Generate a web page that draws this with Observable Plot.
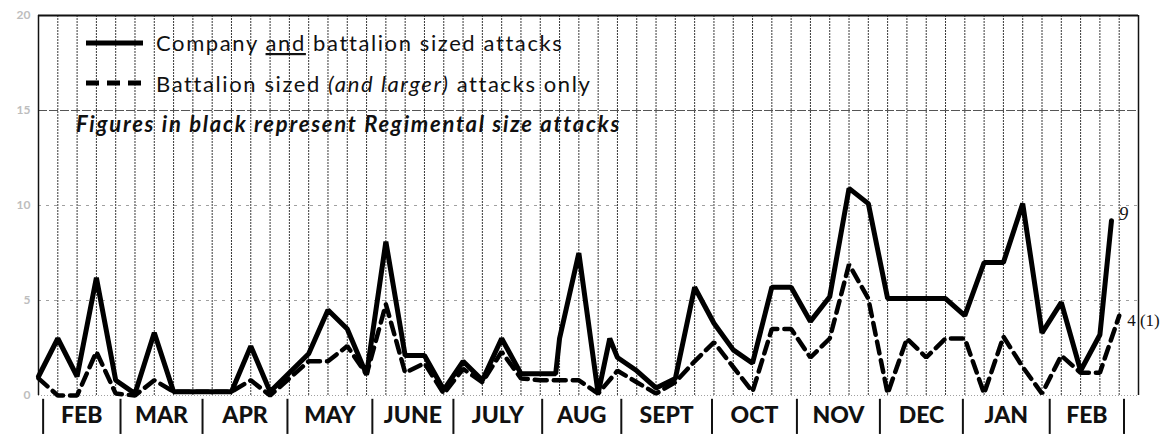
<!DOCTYPE html>
<html><head><meta charset="utf-8">
<script src="https://cdn.jsdelivr.net/npm/d3@7"></script>
<script src="https://cdn.jsdelivr.net/npm/@observablehq/plot@0.6"></script>
<style>
html,body{margin:0;padding:0;background:#fff;}
#chart svg{display:block;}
</style></head><body><div id="chart"></div>
<script>
// Company and battalion sized attacks (solid line), by week position
const companyWeeks = [0,1,2,3,4,5,6,7,8,9,10,11,12,13,14,15,16,17,18,19,20,21,22,23,24,25,26,26.8,27,28,29,29.6,30,31,32,33,34,35,36,37,38,39,40,41,42,43,44,45,46,47,48,49,50,51,52,53,54,55,55.6];
const companyValues = [1,3,1,6.2,0.8,0.1,3.3,0.2,0.2,0.2,0.2,2.6,0.2,1.2,2.2,4.5,3.5,1.1,8.1,2.1,2.1,0.3,1.8,0.8,3.0,1.15,1.15,1.15,3.0,7.5,0.1,3.0,2.0,1.3,0.4,0.9,5.7,3.8,2.4,1.7,5.7,5.7,3.9,5.2,10.9,10.1,5.1,5.1,5.1,5.1,4.2,7.0,7.0,10.1,3.3,4.9,1.3,3.2,9.2];
// Battalion sized (and larger) attacks only (dashed line)
const battalionWeeks = [0,1,2,3,4,5,6,7,8,9,10,11,12,13,14,15,16,17,18,19,20,21,22,23,24,25,26,27,28,29,30,31,32,33,34,35,36,37,38,39,40,41,42,43,44,45,46,47,48,49,50,51,52,53,54,55,56];
const battalionValues = [0.9,0,0,2.3,0.1,0,0.8,0.2,0.2,0.2,0.2,0.8,0,0.9,1.8,1.8,2.6,1.1,4.8,1.2,1.7,0.1,1.4,0.7,2.3,0.9,0.8,0.8,0.8,0.1,1.3,0.7,0.1,0.7,1.8,2.8,1.5,0.2,3.5,3.5,2.0,3.0,6.9,5.1,0.1,3.0,2.0,3.0,3.0,0.1,3.1,1.5,0.1,2.1,1.2,1.2,4.2];
const endLabels = ["9", "4 (1)"];
const monthNames = ["FEB","MAR","APR","MAY","JUNE","JULY","AUG","SEPT","OCT","NOV","DEC","JAN","FEB"];
const monthEdges = [0.24,4.25,8.5,12.9,17.3,21.5,26.1,30.2,34.9,39.3,43.6,47.9,52.4,56.25];
const yTicks = [0,5,10,15,20];
const weekCount = 57;

const company = companyWeeks.map((w,i)=>({week:w, value:companyValues[i]}));
const battalion = battalionWeeks.map((w,i)=>({week:w, value:battalionValues[i]}));
const months = monthNames.map((m,i)=>({name:m, mid:(monthEdges[i]+monthEdges[i+1])/2}));
const weekLines = d3.range(1, weekCount);

const plot = Plot.plot({
  width:1170, height:434,
  marginLeft:38, marginRight:32, marginTop:15, marginBottom:39,
  x:{domain:[0, weekCount], axis:null},
  y:{domain:[0, 20], axis:null},
  style:{background:"transparent", fontFamily:"Lato, sans-serif"},
  marks:[
    Plot.ruleX(weekLines, {y1:0, y2:20, stroke:"#222", strokeWidth:0.9, strokeDasharray:"2,1"}),
    Plot.ruleY([5,10], {stroke:"#888", strokeWidth:0.8, strokeDasharray:"3,5"}),
    Plot.ruleY([15], {stroke:"#555", strokeWidth:1, strokeDasharray:"9,2"}),
    Plot.ruleY([20], {stroke:"#111", strokeWidth:1.8}),
    Plot.ruleY([0], {stroke:"#777", strokeWidth:0.7, strokeDasharray:"1,2"}),
    Plot.ruleX([0, weekCount], {y1:0, y2:20, stroke:"#111", strokeWidth:1.5}),
    Plot.text(yTicks, {x:0, y:d=>d, text:d=>String(d), textAnchor:"end", dx:-8, fill:"#bdbdbd", fontSize:12, fontWeight:"bold"}),
    Plot.line(battalion, {x:"week", y:"value", stroke:"#000", strokeWidth:4.5, strokeDasharray:"12,7", strokeLinejoin:"miter"}),
    Plot.line(company, {x:"week", y:"value", stroke:"#000", strokeWidth:5, strokeLinejoin:"miter"}),
    Plot.ruleX(monthEdges, {y1:-0.2, y2:-2.05, stroke:"#111", strokeWidth:2}),
    Plot.text(months, {x:"mid", y:-1.05, text:"name", fontWeight:900, fontSize:23, fill:"#111", letterSpacing:"2px"}),
    Plot.text([company[company.length-1]], {x:"week", y:"value", text:()=>endLabels[0], dx:12, dy:-7, fontSize:19, fontStyle:"italic", fontFamily:"Liberation Serif", fill:"#111"}),
    Plot.text([battalion[battalion.length-1]], {x:"week", y:"value", text:()=>endLabels[1], textAnchor:"start", dx:8, dy:5, fontSize:17, fontFamily:"Liberation Serif", fill:"#111"})
  ]
});
document.getElementById("chart").appendChild(plot);

// Legend inside the frame
const svg = d3.select(plot);
const g = svg.append("g").attr("font-family","Lato, sans-serif").attr("fill","#111").attr("text-anchor","start");
g.append("line").attr("x1",86).attr("x2",143).attr("y1",43).attr("y2",43).attr("stroke","#000").attr("stroke-width",5);
const t1 = g.append("text").attr("x",156).attr("y",51).attr("font-size",22).attr("letter-spacing","1.6px");
t1.append("tspan").text("Company ");
t1.append("tspan").attr("text-decoration","underline").text("and");
t1.append("tspan").text(" battalion sized attacks");
g.append("line").attr("x1",86).attr("x2",143).attr("y1",83).attr("y2",83).attr("stroke","#000").attr("stroke-width",5).attr("stroke-dasharray","13,8");
const t2 = g.append("text").attr("x",156).attr("y",92).attr("font-size",22).attr("letter-spacing","1.6px");
t2.append("tspan").text("Battalion sized ");
t2.append("tspan").attr("font-style","italic").text("(and larger)");
t2.append("tspan").text(" attacks only");
g.append("text").attr("x",76).attr("y",132).attr("font-size",22).attr("font-style","italic").attr("font-weight","bold").attr("letter-spacing","1.75px").text("Figures in black represent Regimental size attacks");
</script></body></html>
